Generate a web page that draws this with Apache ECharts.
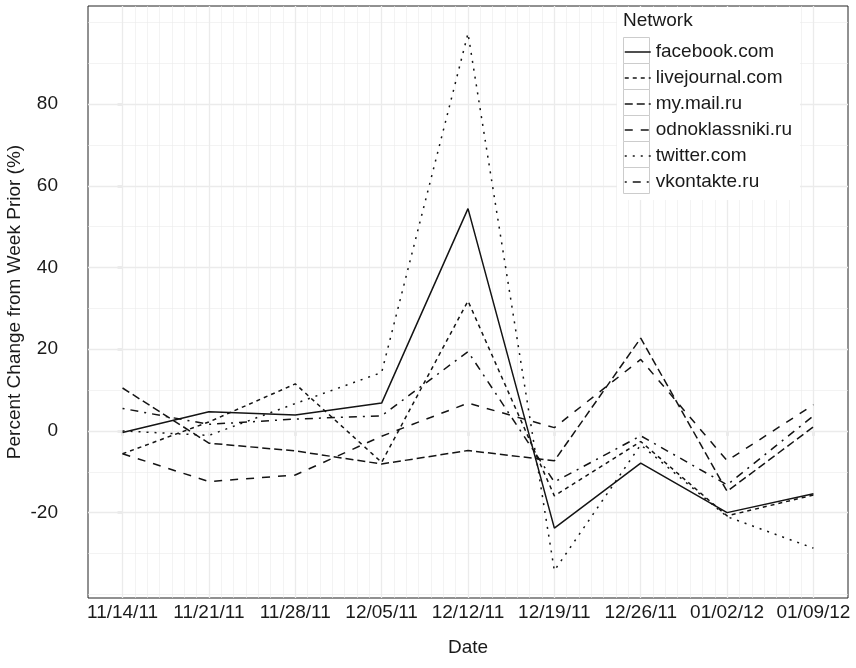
<!DOCTYPE html>
<html>
<head>
<meta charset="utf-8">
<script src="https://cdn.jsdelivr.net/npm/echarts@6/dist/echarts.min.js"></script>
<style>html,body{margin:0;padding:0;background:#fff;}#c{width:856px;height:668px;}</style>
</head>
<body>
<div id="c"></div>
<script>
// ---- data ----
const dateLabels = ['11/14/11','11/21/11','11/28/11','12/05/11','12/12/11','12/19/11','12/26/11','01/02/12','01/09/12'];
const dayOffsets = [0, 7, 14, 21, 28, 35, 42, 49, 56];
const networks = ['facebook.com','livejournal.com','my.mail.ru','odnoklassniki.ru','twitter.com','vkontakte.ru'];
const facebook      = [-0.4, 4.7, 3.9, 6.8, 54.4, -23.8, -7.9, -20.0, -15.4];
const livejournal   = [-5.6, 2.2, 11.5, -7.7, 31.8, -15.9, -2.6, -20.8, -15.7];
const mymail        = [10.5, -3.0, -4.9, -8.1, -4.8, -7.3, 22.7, -14.8, 1.0];
const odnoklassniki = [-5.6, -12.4, -10.8, -1.3, 6.8, 0.8, 17.5, -7.3, 6.4];
const twitter       = [0.0, -1.1, 6.7, 14.3, 97.3, -34.2, -3.4, -21.0, -28.7];
const vkontakte     = [5.5, 1.6, 2.9, 3.7, 19.4, -12.5, -1.2, -13.2, 3.7];
const yTicks = [-20, 0, 20, 40, 60, 80];
const yMinorTicks = [-40, -30, -10, 10, 30, 50, 70, 90, 100];

// ---- styles ----
const FONT = "'Liberation Sans', Arial, Helvetica, sans-serif";
const FS = 19;
const TXT = '#1a1a1a';
const LINE = '#141414';
const GRID = '#ebebeb';
const dashTypes = ['solid', [4, 4], [8, 4], [8, 8], [2, 6], [2, 6, 8, 6]];
const values = [facebook, livejournal, mymail, odnoklassniki, twitter, vkontakte];

const xMinorDays = [];
for (let d = 1; d < 56; d++) if (d % 7 !== 0) xMinorDays.push(d);

const gridLines = [];
dayOffsets.forEach(d => gridLines.push({xAxis: d, lineStyle: {color: GRID, width: 1.3, type: 'solid'}}));
xMinorDays.forEach(d => gridLines.push({xAxis: d, lineStyle: {color: GRID, width: 0.6, type: 'solid'}}));
yTicks.forEach(v => gridLines.push({yAxis: v, lineStyle: {color: GRID, width: 1.3, type: 'solid'}}));
yMinorTicks.forEach(v => gridLines.push({yAxis: v, lineStyle: {color: GRID, width: 0.6, type: 'solid'}}));

const series = networks.map((name, k) => ({
  name: name,
  type: 'line',
  data: dayOffsets.map((d, i) => [d, values[k][i]]),
  symbol: 'none',
  showSymbol: false,
  z: 3,
  lineStyle: {color: LINE, width: 1.5, type: dashTypes[k]},
  itemStyle: {color: LINE}
}));
series.unshift({
  name: '_grid',
  type: 'line',
  data: [],
  z: 1,
  silent: true,
  markLine: {z: 1, silent: true, symbol: ['none', 'none'], label: {show: false}, animation: false, data: gridLines}
});

const keyBoxes = networks.map((n, i) => ({
  type: 'rect', z: 3,
  shape: {x: 623.5, y: 37.5 + 26 * i, width: 26, height: 26},
  style: {fill: '#fff', stroke: '#cccccc', lineWidth: 1}
}));

const chart = echarts.init(document.getElementById('c'), null, {renderer: 'canvas'});
chart.setOption({
  animation: false,
  backgroundColor: '#fff',
  textStyle: {fontFamily: FONT},
  grid: {left: 88, right: 8, top: 6, bottom: 70, show: true, borderColor: '#222', borderWidth: 1,
    backgroundColor: 'transparent', containLabel: false, outerBoundsMode: 'none'},
  xAxis: {
    type: 'value', min: -2.8, max: 58.8,
    name: 'Date', nameLocation: 'middle', nameGap: 40, nameMoveOverlap: false,
    nameTextStyle: {fontSize: FS, color: TXT, fontFamily: FONT},
    axisLine: {show: false},
    axisTick: {show: true, customValues: dayOffsets, length: 5, lineStyle: {color: '#333', width: 1.2}},
    axisLabel: {customValues: dayOffsets, fontSize: FS, color: TXT, margin: 5, fontFamily: FONT,
      formatter: v => dateLabels[dayOffsets.indexOf(Math.round(v))]},
    splitLine: {show: false}
  },
  yAxis: {
    type: 'value', min: -40.9, max: 104.0,
    name: 'Percent Change from Week Prior (%)', nameLocation: 'middle', nameGap: 64, nameMoveOverlap: false,
    nameTextStyle: {fontSize: FS, color: TXT, fontFamily: FONT},
    axisLine: {show: false},
    axisTick: {show: true, customValues: yTicks, length: 5, lineStyle: {color: '#333', width: 1.2}},
    axisLabel: {customValues: yTicks, fontSize: FS, color: TXT, margin: 30, fontFamily: FONT},
    splitLine: {show: false}
  },
  legend: {
    data: networks,
    orient: 'vertical', left: 624, top: 39, padding: 0,
    itemWidth: 26, itemHeight: 26, itemGap: 0, z: 5,
    textStyle: {fontSize: FS, color: TXT, fontFamily: FONT, lineHeight: 26},
    itemStyle: {opacity: 0},
    lineStyle: {width: 1.5}
  },
  graphic: [
    {type: 'rect', z: 3, shape: {x: 617, y: 7, width: 183, height: 193}, style: {fill: '#fff'}},
    ...keyBoxes,
    {type: 'text', z: 3, left: 623, top: 11, style: {text: 'Network', fontSize: FS, fill: TXT, fontFamily: FONT}}
  ],
  series: series
});
</script>
</body>
</html>
